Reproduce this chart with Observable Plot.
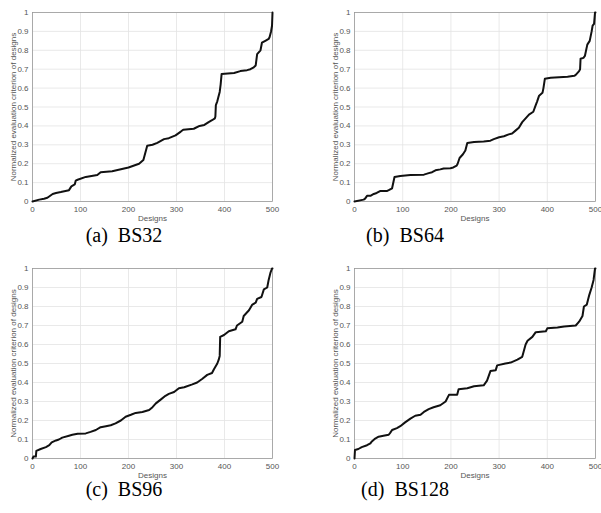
<!DOCTYPE html>
<html>
<head>
<meta charset="utf-8">
<script src="https://cdn.jsdelivr.net/npm/d3@7"></script>
<script src="https://cdn.jsdelivr.net/npm/@observablehq/plot@0.6"></script>
<style>
  html, body { margin: 0; padding: 0; background: #fff; }
  #root { position: relative; width: 601px; height: 513px; overflow: hidden; }
  .panel { position: absolute; overflow: visible; }
  .cap { position: absolute; font-family: 'Liberation Serif', 'DejaVu Serif', 'Times New Roman', serif; font-size: 20px; color: #000; white-space: pre; transform: translate(-50%, -50%); line-height: 1; }
</style>
</head>
<body>
<div id="root"></div>
<script>
// ---- Data ----
const aX = [0,14,24,31,42,49,59,76,81,88,90,94,111,135,142,166,200,222,231,239,250,260,274,284,298,309,314,336,348,358,367,374,380,381,382,385,387,390,392,394,420,433,447,454,461,465,468,475,478,485,492,494,497,499,500];
const aY = [0,0.01,0.015,0.02,0.04,0.045,0.05,0.06,0.08,0.09,0.11,0.115,0.13,0.14,0.155,0.16,0.18,0.2,0.22,0.295,0.3,0.31,0.33,0.335,0.35,0.37,0.38,0.385,0.4,0.405,0.42,0.43,0.44,0.45,0.51,0.53,0.55,0.58,0.62,0.675,0.68,0.69,0.695,0.7,0.71,0.72,0.78,0.8,0.84,0.85,0.86,0.87,0.9,0.93,1.0];

const bX = [0,19,22,26,33,40,46,53,67,71,78,83,95,116,144,154,161,168,178,185,199,205,212,214,218,225,230,234,248,268,282,289,300,310,320,327,334,341,348,355,362,371,376,379,383,390,392,395,407,442,456,459,466,468,469,475,478,483,488,492,494,497,499,500];
const bY = [0,0.01,0.015,0.03,0.03,0.04,0.045,0.055,0.055,0.06,0.07,0.13,0.135,0.14,0.142,0.15,0.155,0.165,0.17,0.175,0.176,0.18,0.19,0.2,0.23,0.25,0.27,0.31,0.315,0.318,0.322,0.33,0.34,0.345,0.355,0.36,0.375,0.39,0.42,0.44,0.46,0.475,0.51,0.53,0.56,0.575,0.6,0.65,0.655,0.66,0.665,0.67,0.69,0.7,0.755,0.76,0.77,0.83,0.85,0.9,0.93,0.94,1.0,1.0];

const cX = [0,2,7,8,17,28,35,40,49,55,62,76,83,94,111,121,132,142,153,163,173,184,194,205,215,229,243,250,257,267,277,284,295,305,316,333,343,354,364,374,378,385,388,390,391,399,409,423,426,437,440,451,458,465,468,477,482,489,492,496,499,500];
const cY = [0,0.01,0.01,0.04,0.05,0.06,0.07,0.085,0.095,0.1,0.11,0.12,0.125,0.13,0.132,0.14,0.15,0.165,0.17,0.175,0.185,0.2,0.22,0.23,0.24,0.245,0.255,0.27,0.29,0.31,0.33,0.34,0.35,0.37,0.375,0.39,0.4,0.42,0.44,0.45,0.47,0.5,0.52,0.54,0.64,0.65,0.67,0.68,0.7,0.72,0.75,0.78,0.81,0.82,0.84,0.85,0.89,0.9,0.94,0.98,1.0,1.0];

const dX = [0,1,8,15,26,33,36,43,50,60,71,74,78,88,95,105,116,126,137,144,154,164,178,189,196,213,216,234,248,268,275,282,293,296,313,324,338,348,355,359,369,376,397,400,421,435,459,466,473,476,482,487,492,496,499,500];
const dY = [0,0.045,0.05,0.06,0.07,0.08,0.09,0.105,0.115,0.12,0.125,0.135,0.15,0.16,0.17,0.19,0.21,0.225,0.23,0.245,0.26,0.27,0.28,0.3,0.335,0.335,0.365,0.37,0.38,0.385,0.41,0.46,0.465,0.49,0.5,0.505,0.52,0.535,0.6,0.62,0.64,0.665,0.67,0.685,0.69,0.695,0.7,0.72,0.75,0.8,0.81,0.86,0.9,0.94,1.0,1.0];

const xTicks = [0,100,200,300,400,500];
const yTicks = [0,0.1,0.2,0.3,0.4,0.5,0.6,0.7,0.8,0.9,1];
const yTickLabels = ["0","0.1","0.2","0.3","0.4","0.5","0.6","0.7","0.8","0.9","1"];
const xLabel = "Designs";
const yLabel = "Normalized evaluation criterion of designs";
const captions = ["(a)  BS32", "(b)  BS64", "(c)  BS96", "(d)  BS128"];

const series = [[aX,aY],[bX,bY],[cX,cY],[dX,dY]];

// ---- Layout ----
const layouts = [
  {left: 0,   top: 0,   width: 300, height: 228, ml: 32, mr: 28, mt: 12, mb: 27, cx: 124, cy: 235},
  {left: 300, top: 0,   width: 301, height: 228, ml: 54, mr: 6,  mt: 12, mb: 27, cx: 405, cy: 235},
  {left: 0,   top: 258, width: 300, height: 228, ml: 32, mr: 28, mt: 10, mb: 28, cx: 124, cy: 489},
  {left: 300, top: 258, width: 301, height: 228, ml: 54, mr: 6,  mt: 10, mb: 28, cx: 405, cy: 489}
];

const root = document.getElementById("root");
const tickColor = "#555555";

series.forEach(([xs, ys], i) => {
  const L = layouts[i];
  const data = xs.map((x, k) => ({x, y: ys[k]}));
  const chart = Plot.plot({
    width: L.width,
    height: L.height,
    marginLeft: L.ml,
    marginRight: L.mr,
    marginTop: L.mt,
    marginBottom: L.mb,
    style: {fontFamily: "'Liberation Sans', Arial, sans-serif", fontSize: "8px", color: tickColor, background: "transparent", overflow: "visible"},
    x: {domain: [0, 500]},
    y: {domain: [0, 1]},
    marks: [
      Plot.gridX(xTicks, {stroke: "#e3e3e3", strokeOpacity: 1, strokeWidth: 0.8}),
      Plot.gridY(yTicks, {stroke: "#e3e3e3", strokeOpacity: 1, strokeWidth: 0.8}),
      Plot.axisX(xTicks, {tickSize: 0, tickPadding: 5, label: xLabel, labelAnchor: "center", labelOffset: 19, labelArrow: "none", fontSize: 8}),
      Plot.axisY(yTicks, {tickSize: 0, tickPadding: 4, tickFormat: (d, k) => yTickLabels[k], label: yLabel, labelAnchor: "center", labelOffset: 22, labelArrow: "none", fontSize: 8}),
      Plot.frame({stroke: "#9a9a9a", strokeWidth: 0.8}),
      Plot.line(data, {x: "x", y: "y", stroke: "#111", strokeWidth: 2, curve: "linear"})
    ]
  });
  chart.classList.add("panel");
  chart.style.left = L.left + "px";
  chart.style.top = L.top + "px";
  root.appendChild(chart);

  const cap = document.createElement("div");
  cap.className = "cap";
  cap.textContent = captions[i];
  cap.style.left = L.cx + "px";
  cap.style.top = L.cy + "px";
  root.appendChild(cap);
});
</script>
</body>
</html>
